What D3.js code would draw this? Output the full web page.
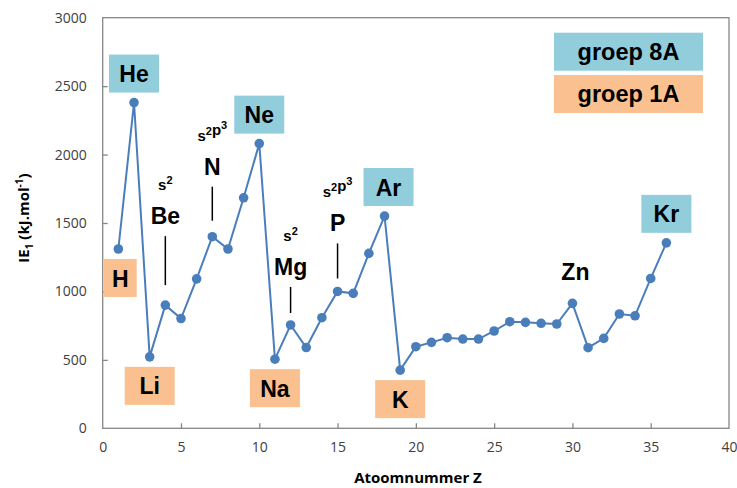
<!DOCTYPE html>
<html>
  <head>
    <meta charset="utf-8">
    <script src="https://d3js.org/d3.v7.min.js"></script>
    <title>IE1</title>
    <style type="text/css">
body {
  margin: 0;
  background-color: #fff;
}
.tick text {
  font: 14px 'Open Sans', sans-serif;
  fill: #404040;
}
.axis-title {
  font: bold 15px 'Open Sans', sans-serif;
  fill: #000;
}
.big {
  font: bold 23px 'Liberation Sans', Arial, sans-serif;
  fill: #000;
}
.conf {
  font: bold 15px 'Liberation Sans', Arial, sans-serif;
  fill: #000;
}
.legend text {
  font: bold 23.5px 'Liberation Sans', Arial, sans-serif;
  fill: #000;
}
    </style>
  </head>
  <body>
<svg></svg>
<script type="text/javascript">
  // atomic number, symbol and first ionisation energy (kJ/mol)
  const atomicNumber = [1, 2, 3, 4, 5, 6, 7, 8, 9, 10, 11, 12, 13, 14, 15, 16, 17, 18,
    19, 20, 21, 22, 23, 24, 25, 26, 27, 28, 29, 30, 31, 32, 33, 34, 35, 36];
  const symbols = ["H", "He", "Li", "Be", "B", "C", "N", "O", "F", "Ne", "Na", "Mg", "Al", "Si",
    "P", "S", "Cl", "Ar", "K", "Ca", "Sc", "Ti", "V", "Cr", "Mn", "Fe", "Co", "Ni", "Cu", "Zn",
    "Ga", "Ge", "As", "Se", "Br", "Kr"];
  const ie1 = [1310, 2380, 522, 900, 802, 1092, 1400, 1310, 1684, 2080, 505, 755, 590, 808,
    1000, 986, 1278, 1551, 425, 596, 628, 662, 652, 652, 711, 779, 774, 767, 762, 913,
    589, 657, 835, 822, 1095, 1355];

  const group8A = ["He", "Ne", "Ar", "Kr"];
  const group1A = ["H", "Li", "Na", "K"];
  const configElements = ["Be", "N", "Mg", "P"];
  // electron configuration, as [base, superscript] pairs
  const configs = [[["s", "2"]], [["s", "2"], ["p", "3"]], [["s", "2"]], [["s", "2"], ["p", "3"]]];
  const plainLabels = ["Zn"];
  const legendLabels = ["groep 8A", "groep 1A"];

  const xTicks = [0, 5, 10, 15, 20, 25, 30, 35, 40];
  const yTicks = [0, 500, 1000, 1500, 2000, 2500, 3000];

  const data = atomicNumber.map((z, i) => ({ z: z, sym: symbols[i], ie: ie1[i] }));
  const bySym = sym => data.find(d => d.sym === sym);

  const width = 737, height = 488;
  const margin = { top: 17.7, right: 8, bottom: 59.7, left: 102.7 };
  const blue = "#92CDDC", orange = "#FAC08F", lineCol = "#4A7EBB";

  const svg = d3.select("svg").attr("width", width).attr("height", height);

  const x = d3.scaleLinear().domain([0, 40]).range([margin.left, width - margin.right]);
  const y = d3.scaleLinear().domain([0, 3000]).range([height - margin.bottom, margin.top]);

  // frame
  svg.append("rect")
      .attr("x", x(0)).attr("y", y(3000))
      .attr("width", x(40) - x(0)).attr("height", y(0) - y(3000))
      .attr("fill", "none").attr("stroke", "#868686").attr("stroke-width", 1.3);

  const xAxis = svg.append("g")
      .attr("transform", "translate(0," + y(0) + ")")
      .call(d3.axisBottom(x).tickValues(xTicks).tickFormat(d3.format("d"))
        .tickSizeInner(-5).tickSizeOuter(0).tickPadding(14));
  const yAxis = svg.append("g")
      .attr("transform", "translate(" + x(0) + ",0)")
      .call(d3.axisLeft(y).tickValues(yTicks).tickFormat(d3.format("d"))
        .tickSizeInner(-5).tickSizeOuter(0).tickPadding(16));
  [xAxis, yAxis].forEach(a => {
    a.select(".domain").remove();
    a.selectAll(".tick line").attr("stroke", "#868686").attr("stroke-width", 1.3);
  });
  xAxis.selectAll(".tick").filter(d => d === 0 || d === 40).select("line").remove();
  yAxis.selectAll(".tick").filter(d => d === 0 || d === 3000).select("line").remove();

  // axis titles
  const yt = svg.append("text")
      .attr("class", "axis-title")
      .attr("text-anchor", "middle")
      .attr("transform", "translate(29," + 218 + ") rotate(-90)");
  yt.append("tspan").text("IE");
  yt.append("tspan").attr("dy", 4).attr("font-size", 10).text("1");
  yt.append("tspan").attr("dy", -4).text(" (kJ.mol");
  yt.append("tspan").attr("dy", -6).attr("font-size", 10).text("-1");
  yt.append("tspan").attr("dy", 6).text(")");

  svg.append("text")
      .attr("class", "axis-title")
      .attr("text-anchor", "middle")
      .attr("x", 418).attr("y", 483)
      .text("Atoomnummer Z");

  // series
  svg.append("path")
      .datum(data)
      .attr("fill", "none")
      .attr("stroke", lineCol)
      .attr("stroke-width", 2)
      .attr("d", d3.line().x(d => x(d.z)).y(d => y(d.ie)));

  svg.selectAll("circle.pt")
      .data(data)
      .enter().append("circle")
        .attr("class", "pt")
        .attr("cx", d => x(d.z))
        .attr("cy", d => y(d.ie))
        .attr("r", 4.8)
        .attr("fill", lineCol);

  // boxed labels for noble gases (above) and alkali metals (below)
  const boxLabel = (sym, fill, dy) => {
    const d = bySym(sym);
    let cx = x(d.z), w = 50;
    if (sym === "H") { w = 33; cx = x(0) + 1 + w / 2; }
    if (sym === "Ar") cx += 4;
    const cy = y(d.ie) + dy;
    const g = svg.append("g").attr("transform", "translate(" + cx + "," + cy + ")");
    g.append("rect").attr("x", -w / 2).attr("y", -19).attr("width", w).attr("height", 38)
        .attr("fill", fill);
    g.append("text").attr("class", "big").attr("text-anchor", "middle").attr("y", 8.5).text(sym);
  };
  group8A.forEach(s => boxLabel(s, blue, -29));
  group1A.forEach(s => boxLabel(s, orange, 29));

  // configuration labels with leader lines
  const leader = { Be: [20, 49], N: [16, 34], Mg: [12, 26], P: [13, 35] };
  configElements.forEach((sym, i) => {
    const d = bySym(sym);
    const cx = x(d.z);
    const bottom = y(d.ie) - leader[sym][0];
    const top = bottom - leader[sym][1];
    svg.append("line")
        .attr("x1", cx).attr("x2", cx).attr("y1", top).attr("y2", bottom)
        .attr("stroke", "#000").attr("stroke-width", 1.5);
    svg.append("text").attr("class", "big").attr("text-anchor", "middle")
        .attr("x", cx).attr("y", top - 12).text(sym);
    const ct = svg.append("text").attr("class", "conf").attr("text-anchor", "middle")
        .attr("x", cx).attr("y", top - 46);
    configs[i].forEach(([base, sup]) => {
      ct.append("tspan").attr("dy", 0).text(base);
      ct.append("tspan").attr("dy", -6).attr("font-size", 11).text(sup);
      ct.append("tspan").attr("dy", 6).text("");
    });
  });

  plainLabels.forEach(sym => {
    const d = bySym(sym);
    svg.append("text").attr("class", "big").attr("text-anchor", "middle")
        .attr("x", x(d.z) + 3).attr("y", y(d.ie) - 23).text(sym);
  });

  // legend
  const legend = svg.append("g").attr("class", "legend");
  legendLabels.forEach((t, i) => {
    const top = 32.7 + i * 42.3;
    legend.append("rect").attr("x", 554).attr("y", top).attr("width", 149).attr("height", 38)
        .attr("fill", i === 0 ? blue : orange);
    legend.append("text").attr("text-anchor", "middle").attr("x", 628.5).attr("y", top + 27).text(t);
  });
</script>
  </body>
</html>
